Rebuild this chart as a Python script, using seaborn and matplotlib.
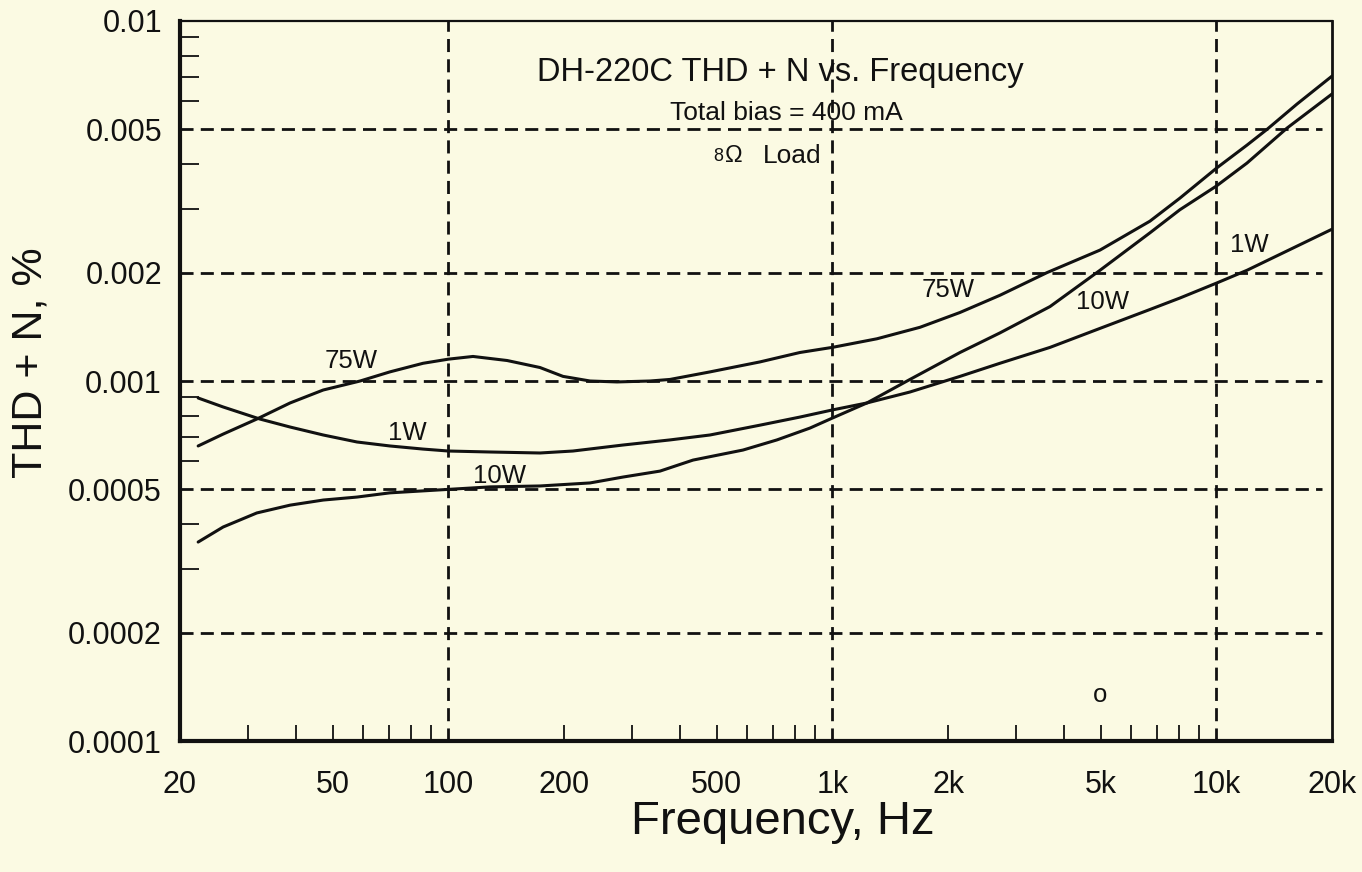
import numpy as np
import pandas as pd
import matplotlib
matplotlib.use("Agg")
import matplotlib.pyplot as plt
import seaborn as sns

# ---------------- data ----------------
freq_75w = [22.3, 25.9, 31.7, 38.7, 47.2, 58.9, 70.4, 85.9, 100, 115.9, 142.2, 173.2, 198.8, 233.8,
            274.9, 335, 377.6, 480, 648, 823, 1000, 1306, 1691, 2149, 2730, 3620, 4975, 6714,
            8032, 10000, 12010, 13546, 16216, 20000]
thd_75w = [0.00066, 0.000712, 0.000784, 0.000869, 0.000944, 0.001, 0.00106, 0.00112, 0.00115,
           0.00117, 0.00114, 0.00109, 0.00103, 0.001, 0.000994, 0.001, 0.00101, 0.00106, 0.00113,
           0.0012, 0.00124, 0.00131, 0.00141, 0.00155, 0.00173, 0.002, 0.00231, 0.00278, 0.00322,
           0.0039, 0.00452, 0.005, 0.00588, 0.00703]

freq_1w = [22.3, 25.9, 32.3, 38.7, 47.2, 57.8, 70.4, 85.9, 100, 128.4, 173.2, 211, 284.9, 377.6,
           480, 648, 823, 1000, 1230, 1592, 2149, 2730, 3688, 4975, 6714, 8032, 10000, 12010, 20000]
thd_1w = [0.000897, 0.000847, 0.000784, 0.000745, 0.000708, 0.000677, 0.00066, 0.000647, 0.000639,
          0.000635, 0.000631, 0.000639, 0.000664, 0.000686, 0.000708, 0.000754, 0.000794, 0.000831,
          0.000869, 0.000932, 0.00103, 0.00112, 0.00124, 0.0014, 0.00158, 0.0017, 0.00187, 0.00203,
          0.00264]

freq_10w = [22.3, 25.9, 31.7, 38.7, 47.2, 57.8, 70.4, 100, 128.4, 173.2, 233.8, 284.9, 355.7, 433.5,
            585, 717, 874, 1000, 1230, 1592, 2149, 2730, 3688, 4975, 6714, 8032, 10000, 12010,
            15268, 20000]
thd_10w = [0.000357, 0.000393, 0.00043, 0.000452, 0.000467, 0.000476, 0.000489, 0.0005, 0.000508,
           0.000511, 0.000521, 0.000541, 0.000562, 0.000603, 0.000643, 0.000686, 0.00074, 0.000789,
           0.000869, 0.00101, 0.0012, 0.00136, 0.00161, 0.00203, 0.00258, 0.00299, 0.00348,
           0.00403, 0.00504, 0.00627]

x_tick_values = [20, 50, 100, 200, 500, 1000, 2000, 5000, 10000, 20000]
x_tick_labels = ["20", "50", "100", "200", "500", "1k", "2k", "5k", "10k", "20k"]
y_tick_values = [0.0001, 0.0002, 0.0005, 0.001, 0.002, 0.005, 0.01]
y_tick_labels = ["0.0001", "0.0002", "0.0005", "0.001", "0.002", "0.005", "0.01"]
x_grid = [100, 1000, 10000]
y_grid = [0.0002, 0.0005, 0.001, 0.002, 0.005]

# curve labels: (text, freq, value)
curve_labels = [("75W", 55.8, 0.001137), ("1W", 78, 0.000717), ("10W", 136, 0.000545),
                ("75W", 2000, 0.00179), ("10W", 5036, 0.001657), ("1W", 12160, 0.00239),
                ("o", 4975, 0.0001343)]

title_text = "DH-220C THD + N vs. Frequency"
bias_text = "Total bias = 400 mA"

# ---------------- styling ----------------
BG = "#FBFAE3"
INK = "#111111"
sns.set_theme(style="white")
plt.rcParams["font.family"] = ["Liberation Sans", "DejaVu Sans"]
plt.rcParams["axes.facecolor"] = BG
plt.rcParams["figure.facecolor"] = BG

df = pd.concat([
    pd.DataFrame({"freq": freq_75w, "thd": thd_75w, "series": "75W"}),
    pd.DataFrame({"freq": freq_1w, "thd": thd_1w, "series": "1W"}),
    pd.DataFrame({"freq": freq_10w, "thd": thd_10w, "series": "10W"}),
], ignore_index=True)

fig = plt.figure(figsize=(13.62, 8.72), dpi=100)
ax = fig.add_axes([180 / 1362, 131 / 872, 1152 / 1362, 720 / 872])
ax.set_facecolor(BG)

sns.lineplot(data=df, x="freq", y="thd", hue="series",
             palette={"75W": INK, "1W": INK, "10W": INK},
             linewidth=2.2, legend=False, ax=ax, zorder=3)
for ln in ax.get_lines():
    ln.set_solid_joinstyle("round")
    ln.set_solid_capstyle("round")

ax.set_xscale("log")
ax.set_yscale("log")
ax.set_xlim(20, 20000)
ax.set_ylim(0.0001, 0.01)

# grid (dashed)
dash = (0, (4.7, 2.6))
for xv in x_grid:
    ax.axvline(xv, color=INK, lw=2.0, ls=dash, zorder=2)
for yv in y_grid:
    ax.axhline(yv, xmax=0.991, color=INK, lw=2.0, ls=dash, zorder=2)

# ticks
ax.set_xticks(x_tick_values)
ax.set_xticklabels(x_tick_labels)
ax.set_yticks(y_tick_values)
ax.set_yticklabels(y_tick_labels)
ax.xaxis.set_minor_locator(matplotlib.ticker.LogLocator(base=10, subs=np.arange(2, 10)))
ax.yaxis.set_minor_locator(matplotlib.ticker.LogLocator(base=10, subs=np.arange(2, 10)))
ax.xaxis.set_minor_formatter(matplotlib.ticker.NullFormatter())
ax.yaxis.set_minor_formatter(matplotlib.ticker.NullFormatter())

ax.tick_params(axis="x", which="both", direction="in", length=11.5, width=1.3,
               colors=INK, labelsize=22, pad=21, bottom=True, top=False)
ax.tick_params(axis="y", which="major", direction="in", length=0, labelsize=22, pad=13,
               left=True, right=False)
ax.tick_params(axis="y", which="minor", direction="in", length=14, width=1.3,
               colors=INK, left=True, right=False)
for lab in ax.get_xticklabels() + ax.get_yticklabels():
    lab.set_color(INK)

# hide tick marks where grid lines sit / at spine ends
for tk, val in zip(ax.xaxis.get_major_ticks(), x_tick_values):
    if val in x_grid or val in (20, 20000):
        tk.tick1line.set_visible(False)

# spines
for side, lw in {"left": 3.0, "bottom": 3.0, "top": 1.6, "right": 2.0}.items():
    ax.spines[side].set_visible(True)
    ax.spines[side].set_color(INK)
    ax.spines[side].set_linewidth(lw)

ax.set_xlabel("Frequency, Hz", fontsize=34, color=INK)
ax.xaxis.set_label_coords(0.5234, -0.1125)
ax.xaxis.label.set_va("center")
ax.set_ylabel("THD + N, %", fontsize=31, color=INK)
ax.yaxis.set_label_coords(-0.130, 0.525)
ax.yaxis.label.set_va("center")

# annotations
ax.text(0.5208, 0.929, title_text, transform=ax.transAxes, ha="center", va="center",
        fontsize=23.5, color=INK, zorder=4)
ax.text(0.526, 0.872, bias_text, transform=ax.transAxes, ha="center", va="center",
        fontsize=19, color=INK, zorder=4)
ax.text(0.467, 0.812, "8", transform=ax.transAxes, ha="center", va="center",
        fontsize=13, color=INK, zorder=4)
ax.text(0.481, 0.812, "Ω", transform=ax.transAxes, ha="center", va="center",
        fontsize=17, color=INK, zorder=4)
ax.text(0.506, 0.812, "Load", transform=ax.transAxes, ha="left", va="center",
        fontsize=19, color=INK, zorder=4)

for txt, fx, fy in curve_labels:
    ax.text(fx, fy, txt, ha="center", va="center", fontsize=18.5, color=INK, zorder=4)

fig.savefig("out.png", dpi=100, facecolor=BG)
